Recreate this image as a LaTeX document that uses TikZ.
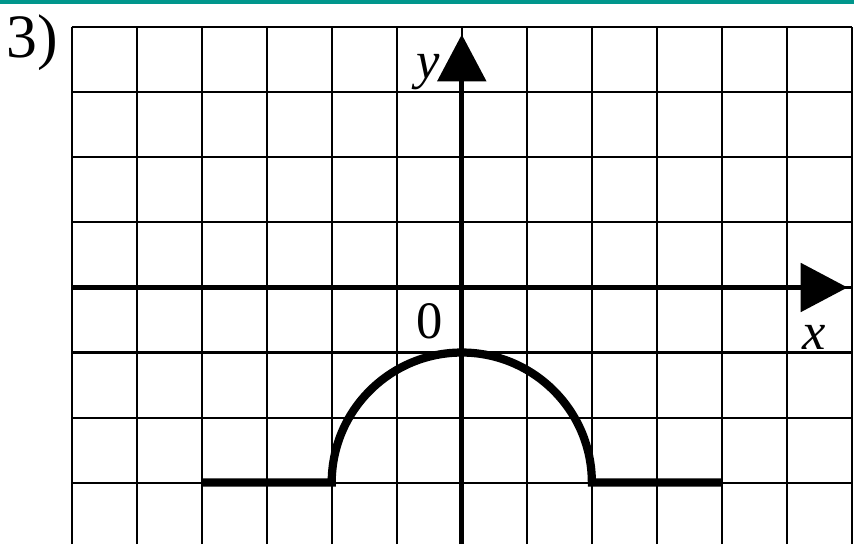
\documentclass[tikz,border=0pt]{standalone}
\usepackage{fontspec}
\setmainfont{Liberation Serif}
\usetikzlibrary{arrows.meta}
\definecolor{barteal}{RGB}{0,150,140}
\begin{document}
\begin{tikzpicture}[scale=1.0,
  axis/.style={line width=2.2pt,-{Triangle[length=0.72cm,width=0.74cm]}},
  graph/.style={line width=3.6pt},
  lbl/.style={font=\fontsize{23}{26}\selectfont, inner sep=0pt}]
  \useasboundingbox (-7.1,-3.944) rectangle (6.03,4.42);
  \fill[barteal] (-7.1,4.36) rectangle (6.03,4.42);
  \draw[line width=0.9pt] (-6,-3.944) grid (6,4);
  \coordinate (xstart) at (-6,0);
  \coordinate (xend) at (5.93,0);
  \coordinate (ystart) at (0,-3.944);
  \coordinate (yend) at (0,3.89);
  \draw[axis] (xstart) -- (xend);
  \draw[axis] (ystart) -- (yend);
  \node[lbl] (ylab) at (-0.51,3.31) {\textit{y}};
  \node[lbl] (xlab) at (5.42,-0.77) {\textit{x}};
  \node[lbl] (olab) at (-0.5,-0.52) {0};
  \node[lbl, font=\fontsize{27}{30}\selectfont] (num) at (-6.61,3.76) {3)};
  \draw[graph] (-4,-3) -- (-2,-3) arc[start angle=180, end angle=0, radius=2] -- (4,-3);
\end{tikzpicture}
\end{document}
